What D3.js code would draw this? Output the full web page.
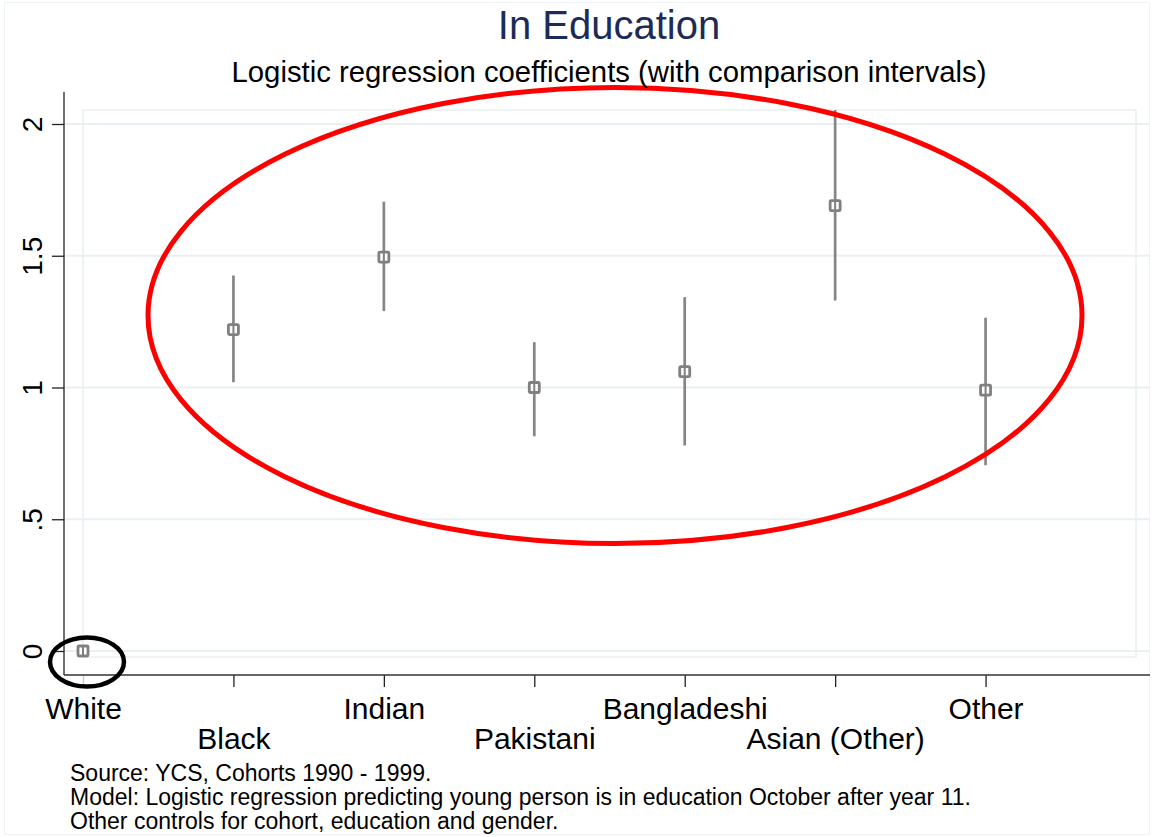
<!DOCTYPE html>
<html>
<head>
<meta charset="utf-8">
<script src="https://cdn.jsdelivr.net/npm/d3@7"></script>
<style>
  body { margin: 0; background: #fff; }
  svg text { font-family: "Liberation Sans", Arial, sans-serif; }
</style>
</head>
<body>
<div id="chart"></div>
<script>
// data
var groups = ["White", "Black", "Indian", "Pakistani", "Bangladeshi", "Asian (Other)", "Other"];
var coef   = [0, 1.22, 1.495, 1.0, 1.06, 1.69, 0.99];
var lower  = [0, 1.02, 1.29, 0.815, 0.78, 1.33, 0.705];
var upper  = [0, 1.425, 1.705, 1.172, 1.343, 2.053, 1.265];
var yTicks = [0, 0.5, 1, 1.5, 2];
var yTickLabels = ["0", ".5", "1", "1.5", "2"];
var notes = [
    "Source: YCS, Cohorts 1990 - 1999.",
    "Model: Logistic regression predicting young person is in education October after year 11.",
    "Other controls for cohort, education and gender."
];

var width = 1153, height = 837;
var svg = d3.select("#chart").append("svg")
    .attr("width", width)
    .attr("height", height);

var grid = "#e8f0f2";

// outer graph frame
svg.append("rect")
    .attr("x", 4.5).attr("y", 2.5)
    .attr("width", 1145).attr("height", 832)
    .attr("fill", "none").attr("stroke", "#eef3f5").attr("stroke-width", 1);

var x = d3.scaleLinear().domain([0, 7]).range([83, 1136]);
var y = d3.scaleLinear().domain([0, 2]).range([651, 124]);

// plot region border
svg.append("rect")
    .attr("x", x(0)).attr("y", y(2.053))
    .attr("width", x(7) - x(0)).attr("height", y(-0.023) - y(2.053))
    .attr("fill", "none").attr("stroke", grid).attr("stroke-width", 1.5);

// gridlines
svg.selectAll(".grid").data(yTicks).enter().append("line")
    .attr("x1", 64).attr("x2", 1150)
    .attr("y1", function(d) { return y(d); })
    .attr("y2", function(d) { return y(d); })
    .attr("stroke", grid).attr("stroke-width", 2);

// y axis
var yAxis = d3.axisLeft(y)
    .tickValues(yTicks)
    .tickFormat(function(d, i) { return yTickLabels[i]; })
    .tickSize(12);
var gy = svg.append("g").attr("transform", "translate(64,0)").call(yAxis);
gy.select(".domain").remove();
gy.selectAll(".tick line").attr("stroke", "#222").attr("stroke-width", 1.3);
// labels rotated, reading upwards
gy.selectAll(".tick text")
    .attr("font-size", 28)
    .attr("fill", "#000")
    .attr("text-anchor", "middle")
    .attr("dy", null)
    .attr("x", 0).attr("y", 0)
    .attr("transform", "translate(-22,0) rotate(-90)");
gy.append("line")
    .attr("x1", 0).attr("x2", 0).attr("y1", 92).attr("y2", 675)
    .attr("stroke", "#222").attr("stroke-width", 1.3);

// x axis
var xAxis = d3.axisBottom(x)
    .tickValues(d3.range(groups.length))
    .tickFormat(function(d) { return groups[d]; })
    .tickSize(12);
var gx = svg.append("g").attr("transform", "translate(0,675)").call(xAxis);
gx.select(".domain").remove();
gx.selectAll(".tick line").attr("stroke", function(d) { return d === 0 ? "#c8c8c8" : "#222"; })
    .attr("stroke-width", 1.3);
gx.selectAll(".tick text")
    .attr("font-size", 30)
    .attr("fill", "#000")
    .attr("dy", null)
    .attr("y", function(d) { return d % 2 === 0 ? 44 : 74; });
gx.append("line")
    .attr("x1", 64).attr("x2", 1150).attr("y1", 0).attr("y2", 0)
    .attr("stroke", "#333").attr("stroke-width", 1.5);

// comparison intervals
var idx = d3.range(groups.length);
svg.selectAll(".ci").data(idx.filter(function(i) { return upper[i] > lower[i]; }))
    .enter().append("line")
    .attr("x1", function(i) { return x(i); })
    .attr("x2", function(i) { return x(i); })
    .attr("y1", function(i) { return y(lower[i]); })
    .attr("y2", function(i) { return y(upper[i]); })
    .attr("stroke", "#858585").attr("stroke-width", 2.7);

// markers: hollow squares
var mk = svg.selectAll(".mk").data(idx).enter().append("g")
    .attr("transform", function(i) { return "translate(" + x(i) + "," + y(coef[i]) + ")"; });
mk.append("rect")
    .attr("x", -5).attr("y", -5).attr("width", 10).attr("height", 10)
    .attr("rx", 1)
    .attr("fill", "#fff").attr("stroke", "#808080").attr("stroke-width", 2.8);
mk.append("line")
    .attr("x1", 0).attr("x2", 0).attr("y1", -4).attr("y2", 4)
    .attr("stroke", "#808080").attr("stroke-width", 2);

// annotations
svg.append("ellipse")
    .attr("cx", 615).attr("cy", 315.5).attr("rx", 467).attr("ry", 228)
    .attr("fill", "none").attr("stroke", "#ff0000").attr("stroke-width", 5);
svg.append("ellipse")
    .attr("cx", x(0) + 4).attr("cy", 662).attr("rx", 37).attr("ry", 24.5)
    .attr("fill", "none").attr("stroke", "#000").attr("stroke-width", 4.5);

// titles
svg.append("text")
    .attr("x", 609).attr("y", 39)
    .attr("text-anchor", "middle")
    .attr("font-size", 40)
    .attr("fill", "#1c2b58")
    .text("In Education");
svg.append("text")
    .attr("x", 609).attr("y", 82)
    .attr("text-anchor", "middle")
    .attr("font-size", 29.3)
    .attr("fill", "#000")
    .text("Logistic regression coefficients (with comparison intervals)");

// notes
svg.selectAll(".note").data(notes).enter().append("text")
    .attr("x", 70)
    .attr("y", function(d, i) { return 781 + i * 24; })
    .attr("font-size", 23)
    .attr("fill", "#000")
    .text(function(d) { return d; });
</script>
</body>
</html>
